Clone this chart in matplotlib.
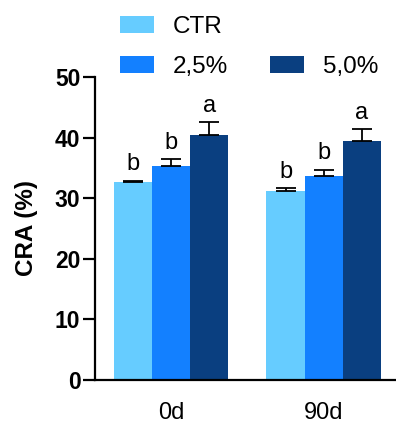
import matplotlib
matplotlib.use("Agg")
import matplotlib.pyplot as plt
from matplotlib.patches import Patch
import numpy as np

plt.rcParams["font.family"] = ["Liberation Sans", "DejaVu Sans"]

groups = ["0d", "90d"]
series = ["CTR", "2,5%", "5,0%"]
colors = ["#66CCFF", "#1380FF", "#0A3F80"]
# mean values per series, one value per group
means = {
    "CTR": [32.6, 31.2],
    "2,5%": [35.3, 33.7],
    "5,0%": [40.4, 39.4],
}
# upper error (SD)
errors = {
    "CTR": [0.3, 0.4],
    "2,5%": [1.1, 1.0],
    "5,0%": [2.1, 2.0],
}
letters = {
    "CTR": ["b", "b"],
    "2,5%": ["b", "b"],
    "5,0%": ["a", "a"],
}

fig = plt.figure(figsize=(3.96, 4.23), dpi=100)
ax = fig.add_axes([0.240, 0.1017, 0.760, 0.7163])

centers = np.array([0.0, 4.0])
width = 1.0
for i, name in enumerate(series):
    x = centers + (i - 1) * width
    m = np.array(means[name])
    e = np.array(errors[name])
    ax.bar(x, m, width=width, color=colors[i], edgecolor="none", zorder=2)
    ax.errorbar(x, m, yerr=[np.zeros_like(e), e], fmt="none", ecolor="black",
                elinewidth=1.3, capsize=7, capthick=1.3, zorder=3)
    for xi, top, lab in zip(x, m + e, letters[name]):
        ax.text(xi, top + 1.7, lab, ha="center", va="baseline", fontsize=17)

ax.set_ylim(0, 50)
ax.set_xlim(-2.0, 5.9)
ax.set_yticks([0, 10, 20, 30, 40, 50])
ax.set_xticks(centers)
ax.set_xticklabels(groups, fontsize=17)
ax.tick_params(axis="x", length=0, pad=16)
ax.tick_params(axis="y", length=8.5, width=1.6, labelsize=16.5, pad=2)
for lab in ax.get_yticklabels():
    lab.set_fontweight("bold")
ax.set_ylabel("CRA (%)", fontsize=17.5, fontweight="bold", labelpad=12)

for side in ["top", "right"]:
    ax.spines[side].set_visible(False)
for side in ["left", "bottom"]:
    ax.spines[side].set_linewidth(1.6)

handles = [Patch(facecolor=colors[0], label=series[0]),
           Patch(facecolor=colors[1], label=series[1]),
           Patch(facecolor="none", edgecolor="none", label=""),
           Patch(facecolor=colors[2], label=series[2])]
fig.legend(handles=handles, ncol=2, loc="upper left", bbox_to_anchor=(0.29, 0.974),
           frameon=False, fontsize=17.5, handlelength=1.4, handleheight=0.7,
           handletextpad=0.8, columnspacing=1.7, labelspacing=0.75,
           borderaxespad=0.0, borderpad=0.2)

fig.savefig("out.png", dpi=100)
